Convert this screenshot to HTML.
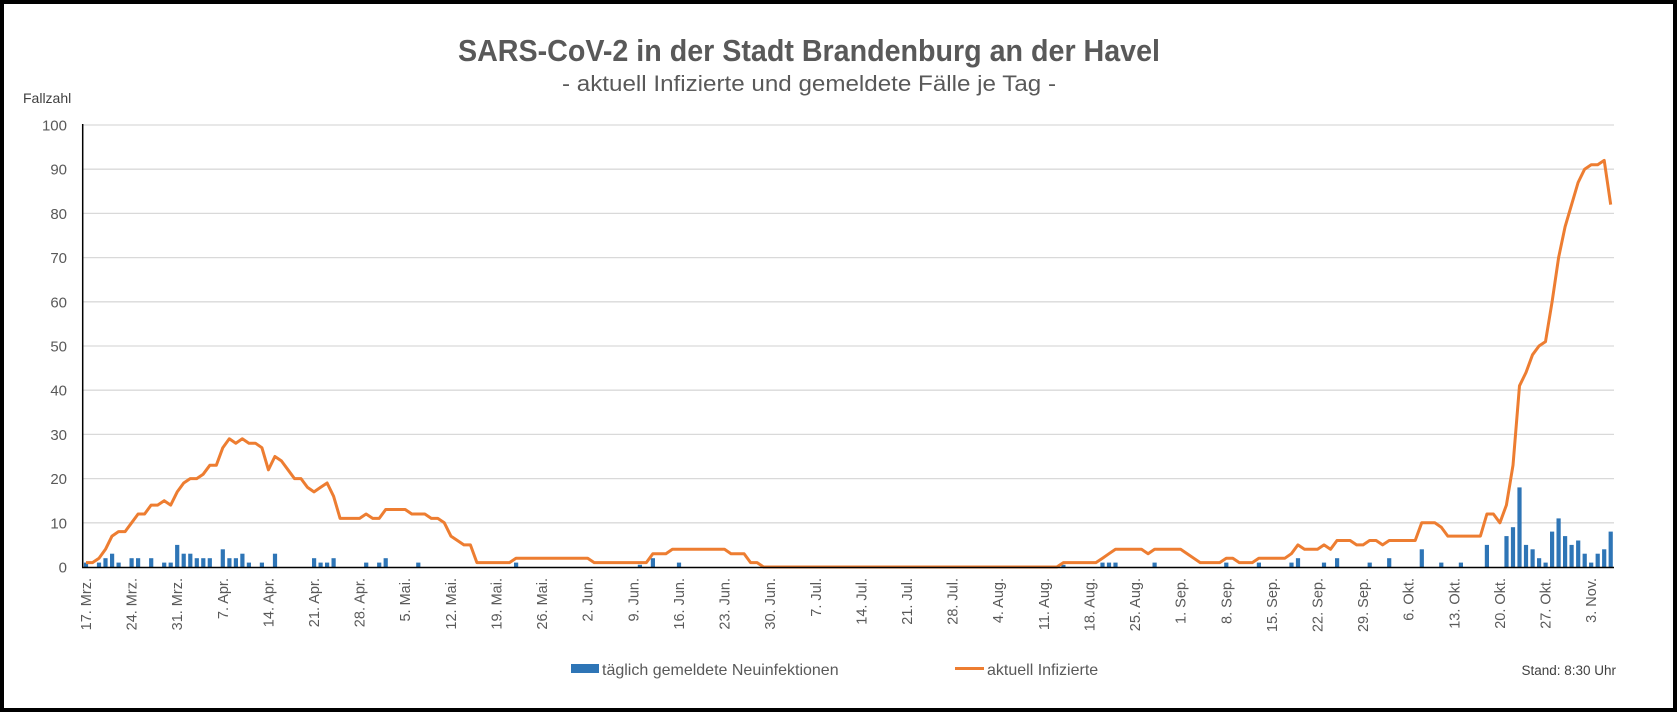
<!DOCTYPE html>
<html><head><meta charset="utf-8">
<style>
html,body{margin:0;padding:0;background:#fff;}
body{width:1677px;height:712px;overflow:hidden;font-family:"Liberation Sans",sans-serif;}
svg text{font-family:"Liberation Sans",sans-serif;}
</style></head>
<body>
<svg id="c" width="1677" height="712" viewBox="0 0 1677 712" xmlns="http://www.w3.org/2000/svg">
<rect x="2" y="2" width="1673" height="708" fill="#fff" stroke="#000" stroke-width="4"/>
<text x="809" y="61" text-anchor="middle" font-size="31" font-weight="bold" fill="#595959" textLength="702" lengthAdjust="spacingAndGlyphs">SARS-CoV-2 in der Stadt Brandenburg an der Havel</text>
<text x="809" y="91" text-anchor="middle" font-size="22" fill="#595959" textLength="494" lengthAdjust="spacingAndGlyphs">- aktuell Infizierte und gemeldete Fälle je Tag -</text>
<text x="23" y="103" font-size="14" fill="#404040">Fallzahl</text>
<g id="grid"></g>
<g id="bars"></g>
<polyline id="line" fill="none" stroke="#ed7d31" stroke-width="3" stroke-linejoin="round"/>
<line x1="82.7" y1="124" x2="82.7" y2="567.5" stroke="#000" stroke-width="1.5"/>
<line x1="82" y1="567.5" x2="1614" y2="567.5" stroke="#000" stroke-width="1.5"/>
<g id="xl"></g>
<rect x="571" y="664" width="28" height="9" fill="#2e75b6"/>
<text x="602" y="675" font-size="16" fill="#595959">täglich gemeldete Neuinfektionen</text>
<line x1="955" y1="668.5" x2="984" y2="668.5" stroke="#ed7d31" stroke-width="3"/>
<text x="987" y="675" font-size="16" fill="#595959">aktuell Infizierte</text>
<text x="1616" y="675" text-anchor="end" font-size="13.5" fill="#404040">Stand: 8:30 Uhr</text>
</svg>
<script>
var NS="http://www.w3.org/2000/svg";
function el(t,a,txt){var e=document.createElementNS(NS,t);for(var k in a)e.setAttribute(k,a[k]);if(txt!=null)e.textContent=txt;return e;}
var x0=82.7,w=6.516,y0=567,u=4.42;
var g=document.getElementById('grid');
for(var v=10;v<=100;v+=10){var y=y0-v*u;g.appendChild(el('line',{x1:x0,y1:y,x2:1614,y2:y,stroke:'#d9d9d9','stroke-width':1.3}));}
for(var v=0;v<=100;v+=10){var y=y0-v*u;g.appendChild(el('text',{x:67,y:y+5.5,'text-anchor':'end','font-size':15,fill:'#595959'},String(v)));}
var L=[1,1,2,4,7,8,8,10,12,12,14,14,15,14,17,19,20,20,21,23,23,27,29,28,29,28,28,27,22,25,24,22,20,20,18,17,18,19,16,11,11,11,11,12,11,11,13,13,13,13,12,12,12,11,11,10,7,6,5,5,1];
while(L.length<66)L.push(1);while(L.length<78)L.push(2);while(L.length<86)L.push(1);
L.push(1,3,3,3,4);while(L.length<99)L.push(4);L.push(3,3,3,1,1);while(L.length<150)L.push(0);
while(L.length<156)L.push(1);L.push(2,3);while(L.length<163)L.push(4);L.push(3);while(L.length<169)L.push(4);
L.push(3,2);while(L.length<175)L.push(1);L.push(2,2,1,1,1);while(L.length<185)L.push(2);
L.push(3,5,4,4,4,5,4,6,6,6,5,5,6,6,5,6,6,6,6,6,10,10,10,9,7,7,7,7,7,7,12,12,10,14,23,41,44,48,50,51,60,70,77,82,87,90,91,91,92,82);
var pts=[];for(var d=0;d<L.length;d++){pts.push((x0+(d+0.5)*w).toFixed(1)+','+(y0-L[d]*u).toFixed(1));}
document.getElementById('line').setAttribute('points',pts.join(' '));
var B={0:1,2:1,3:2,4:3,5:1,7:2,8:2,10:2,12:1,13:1,14:5,15:3,16:3,17:2,18:2,19:2,21:4,22:2,23:2,24:3,25:1,27:1,29:3,35:2,36:1,37:1,38:2,43:1,45:1,46:2,51:1,66:1,85:0.5,87:2,91:1,150:0.5,156:1,157:1,158:1,164:1,175:1,180:1,185:1,186:2,190:1,192:2,197:1,200:2,205:4,208:1,211:1,215:5,218:7,219:9,220:18,221:5,222:4,223:2,224:1,225:8,226:11,227:7,228:5,229:6,230:3,231:1,232:3,233:4,234:8};
var bg=document.getElementById('bars');
for(var k in B){var d=+k,h=B[k]*u;bg.appendChild(el('rect',{x:(x0+d*w+1.2).toFixed(1),y:(y0-h).toFixed(1),width:4.2,height:h.toFixed(1),fill:'#2e75b6'}));}
var names=["17. Mrz.","24. Mrz.","31. Mrz.","7. Apr.","14. Apr.","21. Apr.","28. Apr.","5. Mai.","12. Mai.","19. Mai.","26. Mai.","2. Jun.","9. Jun.","16. Jun.","23. Jun.","30. Jun.","7. Jul.","14. Jul.","21. Jul.","28. Jul.","4. Aug.","11. Aug.","18. Aug.","25. Aug.","1. Sep.","8. Sep.","15. Sep.","22. Sep.","29. Sep.","6. Okt.","13. Okt.","20. Okt.","27. Okt.","3. Nov."];
var xl=document.getElementById('xl');
for(var i=0;i<names.length;i++){var cx=x0+(i*7+0.5)*w+5;
xl.appendChild(el('text',{x:0,y:0,transform:'translate('+cx.toFixed(1)+',578) rotate(-90)','text-anchor':'end','font-size':14.5,fill:'#595959'},names[i]));}
</script>
</body></html>
